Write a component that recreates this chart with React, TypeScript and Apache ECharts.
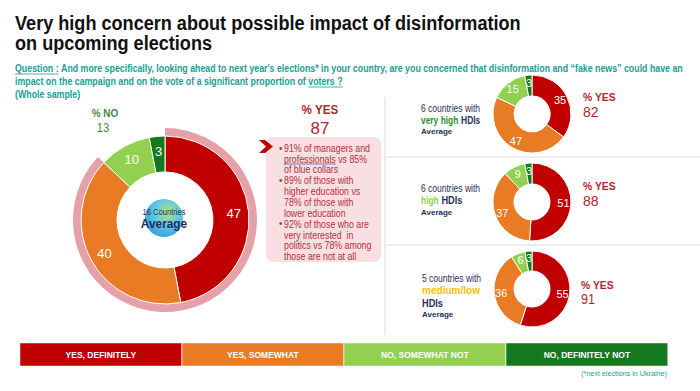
import React, { useEffect, useRef } from "react";
import * as echarts from "echarts";

const categories = ["YES, DEFINITELY", "YES, SOMEWHAT", "NO, SOMEWHAT NOT", "NO, DEFINITELY NOT"];
const colors = ["#c00000", "#e97b25", "#92d050", "#13791c"];
const avgValues = [47, 40, 10, 3];
const veryHighValues = [35, 47, 15, 3];
const highValues = [51, 37, 9, 3];
const mediumLowValues = [55, 36, 6, 3];
const yesAvg = 87;
const noAvg = 13;
const yesVeryHigh = 82;
const yesHigh = 88;
const yesMediumLow = 91;

const FONT = '"Liberation Sans", Arial, sans-serif';
const TEAL = "#1a9e96";
const NAVY = "#1f2f5c";
const DARKRED = "#b3262c";

let measureCtx: CanvasRenderingContext2D | null = null;
function mw(text: string, size: number, weight: string = "normal") {
  if (!measureCtx) measureCtx = document.createElement("canvas").getContext("2d");
  if (!measureCtx) return text.length * size * 0.5;
  measureCtx.font = `${weight} ${size}px ${FONT}`;
  return measureCtx.measureText(text).width;
}

function pieData(vals: number[]) {
  return vals.map((v, i) => ({ name: categories[i], value: v, itemStyle: { color: colors[i] } }));
}

function donut(center: [number, number], radius: [number, number], vals: number[], fs: number) {
  return {
    type: "pie",
    center,
    radius,
    startAngle: 90,
    clockwise: true,
    avoidLabelOverlap: false,
    silent: true,
    itemStyle: { borderColor: "#ffffff", borderWidth: 1 },
    label: {
      show: true,
      position: "inside",
      formatter: "{c}",
      color: "#ffffff",
      fontSize: fs,
      fontFamily: FONT,
    },
    labelLine: { show: false },
    data: pieData(vals),
  };
}

export default function App() {
  const ref = useRef<HTMLDivElement>(null);
  useEffect(() => {
    if (!ref.current) return;
    const chart = echarts.init(ref.current, null, { renderer: "svg" });
    const t = (x: number, y: number, text: string, style: any, sx: number = 1) => ({
      type: "text",
      x,
      y,
      scaleX: sx,
      silent: true,
      style: { text, fontFamily: FONT, ...style },
    });

    // title
    const title1 = "Very high concern about possible impact of disinformation";
    const title2 = "on upcoming elections";
    const titleSx = 506 / mw(title1, 21, "bold");

    // question
    const qLabel = "Question :";
    const qRest = "And more specifically, looking ahead to next year's elections* in your country, are you concerned that disinformation and \u201cfake news\u201d could have an";
    const qLine2a = "impact on the campaign and on the vote of a significant proportion of ";
    const qLine2b = "voters ?";
    const qFs = 10.5;
    const qW = "bold";
    const qSx = 668 / mw(qLabel + " " + qRest, qFs, qW);
    const qRestX = 15 + qSx * mw(qLabel + " ", qFs, qW);
    const qLabelW = qSx * mw(qLabel, qFs, qW);
    const v2x = 15 + qSx * mw(qLine2a, qFs, qW);
    const v2w = qSx * mw(qLine2b, qFs, qW);

    const bulletLines = [
      ["•", "91% of managers and"],
      ["", "professionals vs 85%"],
      ["", "of blue collars"],
      ["•", "89% of those with"],
      ["", "higher education vs"],
      ["", "78% of those with"],
      ["", "lower education"],
      ["•", "92% of those who are"],
      ["", "very interested  in"],
      ["", "politics vs 78% among"],
      ["", "those are not at all"],
    ];
    const bFs = 10;
    const bSx = 85 / mw("92% of those who are", bFs);
    const profW = bSx * mw("professionals", bFs);

    const rFs = 10.5;
    const cwSx = 59 / mw("6 countries with", rFs);
    const hdiSx = 59 / mw("very high HDIs", rFs, "bold");
    const medSx = 58 / mw("medium/low", rFs, "bold");

    const legendX = [20, 182, 344, 506];
    const legendW = 161.75;
    const textStyleRed = { fontSize: bFs, fill: "#b5303a", verticalAlign: "middle" };

    const graphic: any[] = [
      t(15, 23, title1, { fontSize: 21, fontWeight: "bold", fill: "#111111", verticalAlign: "middle" }, titleSx),
      t(15, 43, title2, { fontSize: 21, fontWeight: "bold", fill: "#111111", verticalAlign: "middle" }, titleSx),
      t(15, 68, qLabel, { fontSize: qFs, fill: TEAL, verticalAlign: "middle", fontWeight: qW }, qSx),
      { type: "line", silent: true, shape: { x1: 15, y1: 74, x2: 15 + qLabelW, y2: 74 }, style: { stroke: TEAL, lineWidth: 0.8 } },
      t(qRestX, 68, qRest, { fontSize: qFs, fill: TEAL, verticalAlign: "middle", fontWeight: qW }, qSx),
      t(15, 81, qLine2a + qLine2b, { fontSize: qFs, fill: TEAL, verticalAlign: "middle", fontWeight: qW }, qSx),
      { type: "line", silent: true, shape: { x1: v2x, y1: 87, x2: v2x + v2w, y2: 87 }, style: { stroke: TEAL, lineWidth: 0.8 } },
      t(15, 94, "(Whole sample)", { fontSize: qFs, fill: TEAL, verticalAlign: "middle", fontWeight: qW }, qSx),
      // separators
      { type: "line", silent: true, shape: { x1: 385, y1: 97, x2: 385, y2: 335 }, style: { stroke: "#dcdcdc", lineWidth: 1 } },
      { type: "line", silent: true, shape: { x1: 385, y1: 157, x2: 700, y2: 157 }, style: { stroke: "#dcdcdc", lineWidth: 1 } },
      { type: "line", silent: true, shape: { x1: 385, y1: 245, x2: 700, y2: 245 }, style: { stroke: "#dcdcdc", lineWidth: 1 } },
      // % NO
      t(105, 113, "% NO", { fontSize: 11, fontWeight: "bold", fill: "#3f8a43", align: "center", verticalAlign: "middle" }, 0.9),
      t(103, 128, String(noAvg), { fontSize: 12.5, fill: "#3f8a43", align: "center", verticalAlign: "middle" }, 0.9),
      // % YES main
      t(320, 110, "% YES", { fontSize: 13, fontWeight: "bold", fill: DARKRED, align: "center", verticalAlign: "middle" }, 0.9),
      t(320, 128, String(yesAvg), { fontSize: 17, fill: DARKRED, align: "center", verticalAlign: "middle" }),
      // text box
      { type: "rect", silent: true, shape: { x: 266, y: 137, width: 115, height: 125, r: 7 }, style: { fill: "#f9dfe2" } },
      { type: "polygon", silent: true, shape: { points: [[259, 140], [265, 140], [273, 146.5], [265, 153], [259, 153], [266, 146.5]] }, style: { fill: "#c00000" } },
      ...bulletLines.flatMap((ln, i) => {
        const y = 148 + i * 10.85;
        const out: any[] = [t(284, y, ln[1], textStyleRed, bSx)];
        if (ln[0]) out.push(t(279, y, ln[0], textStyleRed));
        return out;
      }),
      { type: "line", silent: true, shape: { x1: 284, y1: 164, x2: 284 + profW, y2: 164 }, style: { stroke: "#5b5ea6", lineWidth: 0.8 } },
      // globe center
      {
        type: "circle", silent: true, shape: { cx: 164, cy: 218, r: 19 },
        style: {
          fill: new echarts.graphic.RadialGradient(0.6, 0.35, 0.8, [
            { offset: 0, color: "#b6e07a" },
            { offset: 0.45, color: "#5fc8e6" },
            { offset: 1, color: "#2a8fd6" },
          ]),
        },
      },
      t(164, 212, "16 Countries", { fontSize: 9.5, fill: NAVY, align: "center", verticalAlign: "middle" }, 0.8),
      t(164, 224, "Average", { fontSize: 12.5, fontWeight: "bold", fill: NAVY, align: "center", verticalAlign: "middle" }, 0.95),
      // right labels
      t(421, 108, "6 countries with", { fontSize: rFs, fill: NAVY, verticalAlign: "middle" }, cwSx),
      {
        type: "text", x: 421, y: 120, silent: true, scaleX: hdiSx,
        style: {
          text: "{a|very high} {b|HDIs}", verticalAlign: "middle",
          rich: {
            a: { fontFamily: FONT, fontSize: rFs, fontWeight: "bold", fill: "#2f8f2f", color: "#2f8f2f" },
            b: { fontFamily: FONT, fontSize: rFs, fontWeight: "bold", fill: NAVY, color: NAVY },
          },
        },
      },
      t(421, 131, "Average", { fontSize: 8, fontWeight: "bold", fill: NAVY, verticalAlign: "middle" }),
      t(421, 188, "6 countries with", { fontSize: rFs, fill: NAVY, verticalAlign: "middle" }, cwSx),
      {
        type: "text", x: 421, y: 200, silent: true, scaleX: hdiSx,
        style: {
          text: "{a|high} {b|HDIs}", verticalAlign: "middle",
          rich: {
            a: { fontFamily: FONT, fontSize: rFs, fontWeight: "bold", fill: "#92d050", color: "#92d050" },
            b: { fontFamily: FONT, fontSize: rFs + 1, fontWeight: "bold", fill: NAVY, color: NAVY },
          },
        },
      },
      t(421, 212, "Average", { fontSize: 8, fontWeight: "bold", fill: NAVY, verticalAlign: "middle" }),
      t(422, 278, "5 countries with", { fontSize: rFs, fill: NAVY, verticalAlign: "middle" }, cwSx),
      t(422, 290, "medium/low", { fontSize: rFs, fontWeight: "bold", fill: "#ffc000", verticalAlign: "middle" }, medSx),
      t(422, 303, "HDIs", { fontSize: rFs + 1, fontWeight: "bold", fill: NAVY, verticalAlign: "middle" }, hdiSx),
      t(422, 314, "Average", { fontSize: 8, fontWeight: "bold", fill: NAVY, verticalAlign: "middle" }),
      // right % YES
      t(583, 97, "% YES", { fontSize: 11.5, fontWeight: "bold", fill: DARKRED, verticalAlign: "middle" }, 0.9),
      t(583, 112, String(yesVeryHigh), { fontSize: 14, fill: DARKRED, verticalAlign: "middle" }),
      t(583, 186, "% YES", { fontSize: 11.5, fontWeight: "bold", fill: DARKRED, verticalAlign: "middle" }, 0.9),
      t(583, 201, String(yesHigh), { fontSize: 14, fill: DARKRED, verticalAlign: "middle" }),
      t(581, 285, "% YES", { fontSize: 11.5, fontWeight: "bold", fill: DARKRED, verticalAlign: "middle" }, 0.9),
      t(581, 299, String(yesMediumLow), { fontSize: 14, fill: DARKRED, verticalAlign: "middle" }, 0.9),
      // legend bar
      ...categories.flatMap((c, i) => [
        { type: "rect", silent: true, shape: { x: legendX[i], y: 343, width: legendW, height: 23 }, style: { fill: colors[i], stroke: "#ffffff", lineWidth: 0.5 } },
        t(legendX[i] + legendW / 2, 354.5, c, { fontSize: 8.5, fontWeight: "bold", fill: "#ffffff", align: "center", verticalAlign: "middle" }),
      ]),
      t(667, 373, "(*next elections in Ukraine)", { fontSize: 8, fill: TEAL, align: "right", verticalAlign: "middle" }, 0.9),
    ];

    chart.setOption({
      animation: false,
      backgroundColor: "#ffffff",
      series: [
        {
          type: "pie",
          center: [165, 220],
          radius: [84, 92],
          startAngle: 90,
          silent: true,
          label: { show: false },
          labelLine: { show: false },
          data: [
            { name: "YES", value: avgValues[0] + avgValues[1], itemStyle: { color: "#e6a1a8" } },
            { name: "NO", value: avgValues[2] + avgValues[3], itemStyle: { color: "rgba(0,0,0,0)" } },
          ],
        },
        donut([165, 220], [48, 84], avgValues, 13),
        donut([532, 114], [18, 39], veryHighValues, 11),
        donut([532, 202], [18, 39], highValues, 11),
        donut([532, 289], [18, 38], mediumLowValues, 11),
      ],
      graphic,
    });
    return () => chart.dispose();
  }, []);
  return <div ref={ref} style={{ position: "fixed", left: 0, top: 0, width: 700, height: 391 }} />;
}
